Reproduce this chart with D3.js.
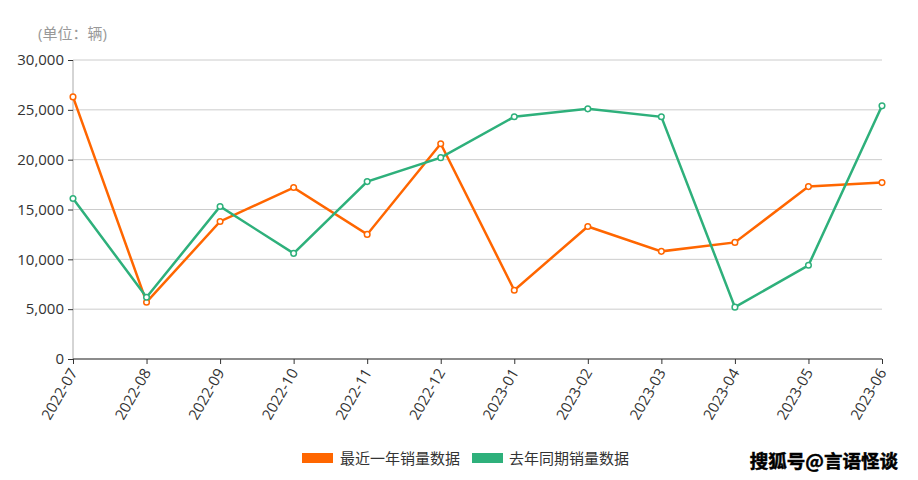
<!DOCTYPE html>
<html><head><meta charset="utf-8">
<script src="https://cdn.jsdelivr.net/npm/d3@7"></script>
<style>body{margin:0;background:#fff}svg{display:block}</style>
</head><body>
<script>
const categories = ["2022-07","2022-08","2022-09","2022-10","2022-11","2022-12","2023-01","2023-02","2023-03","2023-04","2023-05","2023-06"];
const recentYear = [26300,5700,13800,17200,12500,21600,6900,13300,10800,11700,17300,17700];
const lastYear = [16100,6200,15300,10600,17800,20200,24300,25100,24300,5200,9400,25400];
const yTicks = [0,5000,10000,15000,20000,25000,30000];
const seriesNames = ["最近一年销量数据","去年同期销量数据"];
const colors = ["#ff6600","#2eb07b"];
const unitLabel = "(单位：辆)";
const watermark = "搜狐号@言语怪谈";

(function(){
const W=918,H=480, mLeft=73, mRight=882, mTop=60, mBottom=359;
const font = "'Open Sans','Noto Sans CJK SC',sans-serif";
const svg = d3.select("body").append("svg").attr("width",W).attr("height",H).style("font-family",font);

const x = d3.scalePoint().domain(categories).range([mLeft,mRight]);
const y = d3.scaleLinear().domain([0,30000]).range([mBottom,mTop]);

// grid
svg.append("g").selectAll("line").data(yTicks.filter(d=>d>0)).join("line")
  .attr("x1",mLeft).attr("x2",mRight).attr("y1",d=>y(d)).attr("y2",d=>y(d))
  .attr("stroke","#cccccc").attr("stroke-width",1);

// y axis
const ya = svg.append("g").attr("transform",`translate(${mLeft},0)`)
  .call(d3.axisLeft(y).tickValues(yTicks).tickFormat(d3.format(",")).tickSize(5).tickPadding(4));
ya.select(".domain").attr("stroke","#aaaaaa").attr("d",`M0,${mTop}V${mBottom}`);
ya.selectAll(".tick line").attr("stroke","#333");
ya.selectAll(".tick text").attr("fill","#333").style("font-size","15px").style("font-family",font);

// x axis
const xa = svg.append("g").attr("transform",`translate(0,${mBottom})`)
  .call(d3.axisBottom(x).tickSize(5));
xa.select(".domain").attr("stroke","#666").attr("stroke-width",1.5).attr("d",`M${mLeft},0H${mRight}`);
xa.selectAll(".tick line").attr("stroke","#333");
xa.selectAll(".tick text").attr("fill","#333").style("font-size","15px").style("font-family",font)
  .attr("text-anchor","end").attr("dy","0.35em").attr("transform","translate(1,9) rotate(-60)").attr("y",0).attr("x",-2);

// unit label
svg.append("text").attr("x",38).attr("y",39).text(unitLabel).attr("fill","#999").style("font-size","15px");

// lines
const data=[recentYear,lastYear];
const line = d3.line().x((d,i)=>x(categories[i])).y(d=>y(d));
data.forEach((s,k)=>{
  svg.append("path").datum(s).attr("d",line).attr("fill","none").attr("stroke",colors[k]).attr("stroke-width",2.5);
});
data.forEach((s,k)=>{
  svg.append("g").selectAll("circle").data(s).join("circle")
    .attr("cx",(d,i)=>x(categories[i])).attr("cy",d=>y(d)).attr("r",2.8)
    .attr("fill","#fff").attr("stroke",colors[k]).attr("stroke-width",1.5);
});

// legend
const lg=[{x:302,tx:340},{x:472,tx:509}];
seriesNames.forEach((n,k)=>{
  svg.append("rect").attr("x",lg[k].x).attr("y",453).attr("width",31).attr("height",10).attr("fill",colors[k]);
  svg.append("text").attr("x",lg[k].tx).attr("y",464).text(n).attr("fill","#333").style("font-size","15px");
});

// watermark
svg.append("text").attr("x",898).attr("y",468).attr("text-anchor","end").text(watermark)
  .attr("fill","#000").attr("stroke","#000").attr("stroke-width",0.5).style("font-size","18.5px").style("font-weight","bold")
  .style("font-family","'Noto Sans CJK SC',sans-serif");
})();
</script>
</body></html>
